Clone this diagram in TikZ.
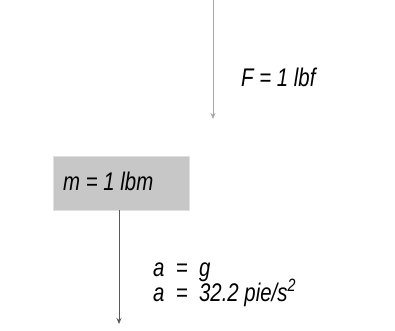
\documentclass[tikz,border=0pt]{standalone}
\usepackage{fontspec}
\setmainfont{Liberation Sans}[FakeStretch=0.8]
\usetikzlibrary{arrows.meta}
\begin{document}
\begin{tikzpicture}[x=1pt,y=-1pt,
  lbl/.style={font=\fontsize{25.5}{27}\selectfont\itshape, inner sep=0pt, anchor=base west},
  arr/.style={-{Stealth[length=6pt,width=5pt]}, line width=0.8pt}]
\useasboundingbox (0,0) rectangle (395,330);
\node[fill=black!22, draw=black!12, minimum width=136pt, minimum height=54pt, inner sep=0pt, anchor=north west] (box) at (53,156) {};
\node[lbl] (m) at (63,190) {m = 1 lbm};
\coordinate (ftop) at (213,0);
\coordinate (fbot) at (213,119);
\draw[arr, draw=black!35, fill=black!35] (ftop) -- (fbot);
\node[lbl] (F) at (241,86) {F = 1 lbf};
\coordinate (abot) at (119,324);
\draw[arr, draw=black!65] (box.south -| abot) -- (abot);
\node[lbl] (a1) at (153,276) {a \ = \ g};
\node[lbl] (a2) at (153,301) {a \ = \ 32.2 pie/s\textsuperscript{2}};
\end{tikzpicture}
\end{document}
